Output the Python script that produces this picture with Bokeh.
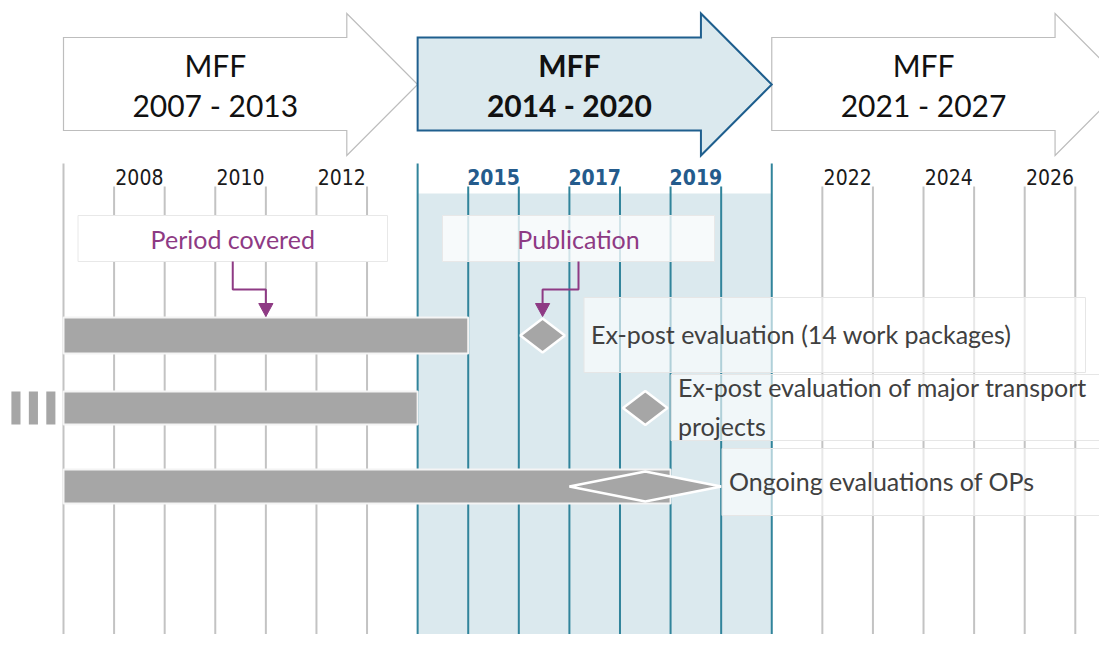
from bokeh.plotting import figure
from bokeh.models import Range1d
from bokeh.core.properties import value
from bokeh.embed import file_html
from bokeh.resources import INLINE

# ---------------- data ----------------
mff_labels = ["2007 - 2013", "2014 - 2020", "2021 - 2027"]
mff_start = [2007, 2014, 2021]
mff_end = [2014, 2021, 2028]
current_mff = 1

year_labels = [2008, 2010, 2012, 2015, 2017, 2019, 2022, 2024, 2026]

eval_names = [
    "Ex-post evaluation (14 work packages)",
    "Ex-post evaluation of major transport\nprojects",
    "Ongoing evaluations of OPs",
]
period_start = [2007, 2007, 2007]
period_end = [2015, 2014, 2019]
pub_mid = [2016.47, 2018.5, 2018.5]
pub_half = [0.44, 0.44, 1.5]

# ---------------- layout ----------------
W, H = 1099, 634
PXY = 50.59                      # pixels per year
X0 = 2007 - 63 / PXY
X1 = X0 + W / PXY


def sx(px):
    """pixel -> year coordinate (layout helper)"""
    return X0 + px / PXY


row_y = [335, 407.5, 486]
bar_hh = [18, 16.5, 17]
dia_hh = [17, 17, 15]

MAIN = value("Lato")
NARROW = value("'Liberation Sans Narrow', 'DejaVu Sans Condensed', Lato")
GRAY_LINE = "#c3c3c3"
TEAL = "#31849b"
SHADE = "#dbe9ee"
BAR = "#a6a6a6"
PURPLE = "#8e3a84"
DARKBLUE = "#245b8c"
TXT = "#404040"

p = figure(width=W, height=H, x_range=Range1d(X0, X1), y_range=Range1d(H, 0),
           output_backend="svg", toolbar_location=None,
           x_axis_location=None, y_axis_location=None,
           min_border=0, min_border_left=0, min_border_right=0,
           min_border_top=0, min_border_bottom=0)
p.grid.visible = False
p.outline_line_color = None
p.background_fill_color = "white"
p.border_fill_color = "white"

# shading of the current MFF
p.quad(left=[mff_start[current_mff]], right=[mff_end[current_mff]], top=[193], bottom=[660],
       fill_color=SHADE, line_color=None)

# vertical year lines
x_l, y0_l, col_l = [], [], []
for yr in range(mff_start[0], mff_end[-1]):
    x_l.append(yr)
    y0_l.append(163 if yr in mff_start else 186)
    col_l.append(TEAL if mff_start[current_mff] <= yr <= mff_end[current_mff] else GRAY_LINE)
p.segment(x0=x_l, y0=y0_l, x1=x_l, y1=[660] * len(x_l), line_color=col_l, line_width=2)

# year labels
for i, yr in enumerate(year_labels):
    cur = mff_start[current_mff] <= yr < mff_end[current_mff]
    p.text(x=[yr + 0.5], y=[176], text=[str(yr)], text_align="center", text_baseline="middle",
           text_font=NARROW, text_font_size="21px",
           text_font_style="bold" if cur else "normal",
           text_color=DARKBLUE if cur else "#1a1a1a")

# MFF arrows
HEAD = 1.40
order = [0, 2, 1]
for i in order:
    s, e = mff_start[i], mff_end[i]
    xs = [s, e - HEAD, e - HEAD, e, e - HEAD, e - HEAD, s]
    ys = [37, 37, 13, 84, 155, 130, 130]
    cur = i == current_mff
    p.patch(xs, ys, fill_color=SHADE if cur else "white",
            line_color="#1f5f8e" if cur else "#bdbdbd", line_width=2 if cur else 1.2,
            line_join="miter")
    p.text(x=[s + 3], y=[64], text=["MFF"], text_align="center", text_baseline="middle",
           text_font=MAIN, text_font_size="30px", text_font_style="bold" if cur else "normal",
           text_color="#111111")
    p.text(x=[s + 3], y=[104], text=[mff_labels[i]], text_align="center", text_baseline="middle",
           text_font=MAIN, text_font_size="30px", text_font_style="bold" if cur else "normal",
           text_color="#111111")

# continuation marks left of second bar
for k in range(3):
    right = period_start[1] - 0.16 - k * 0.345
    p.quad(left=[right - 0.18], right=[right], top=[row_y[1] - bar_hh[1]],
           bottom=[row_y[1] + bar_hh[1]], fill_color=BAR, line_color=None)

# period bars
p.quad(left=period_start, right=period_end,
       top=[r - h for r, h in zip(row_y, bar_hh)], bottom=[r + h for r, h in zip(row_y, bar_hh)],
       fill_color=BAR, line_color="#f4f4f4", line_width=2)

# publication diamonds
dxs, dys = [], []
for m, hw, r, hh in zip(pub_mid, pub_half, row_y, dia_hh):
    dxs.append([m - hw, m, m + hw, m])
    dys.append([r, r - hh, r, r + hh])
p.patches(dxs, dys, fill_color=BAR, line_color="white", line_width=2.5)

# label boxes (semi-transparent)
box_left_px = [583.5, 670.5, 721.5]
box_right_px = [1085, 1130, 1130]
box_top = [297, 374, 448]
box_bot = [372, 440, 515]
p.quad(left=[sx(v) for v in box_left_px], right=[sx(v) for v in box_right_px],
       top=box_top, bottom=box_bot, fill_color="white", fill_alpha=0.62,
       line_color="#e6e6e6", line_width=1)
for i, name in enumerate(eval_names):
    p.text(x=[sx(box_left_px[i] + 7)], y=[(box_top[i] + box_bot[i]) / 2 - 1], text=[name],
           text_align="left", text_baseline="middle", text_font=MAIN, text_font_size="25px",
           text_color=TXT, text_line_height=1.32)

# legend boxes: Period covered / Publication
leg_left = [sx(77.5), sx(442)]
leg_right = [sx(387), sx(714)]
leg_alpha = [1.0, 0.78]
leg_text = ["Period covered", "Publication"]
leg_target = [(period_start[0] + period_end[0]) / 2, pub_mid[0]]
for i in range(2):
    p.quad(left=[leg_left[i]], right=[leg_right[i]], top=[215], bottom=[261],
           fill_color="white", fill_alpha=leg_alpha[i], line_color="#e8e8e8", line_width=1)
    cx = (leg_left[i] + leg_right[i]) / 2
    p.text(x=[cx], y=[238], text=[leg_text[i]], text_align="center", text_baseline="middle",
           text_font=MAIN, text_font_size="25px", text_color=PURPLE)
    tx = leg_target[i]
    p.line([cx, cx, tx, tx], [261, 289, 289, 304], line_color=PURPLE, line_width=2)
    p.patch([tx - 0.14, tx + 0.14, tx], [303, 303, 316], fill_color=PURPLE, line_color=PURPLE,
            line_width=1)

open("out.html", "w").write(file_html(p, INLINE))
